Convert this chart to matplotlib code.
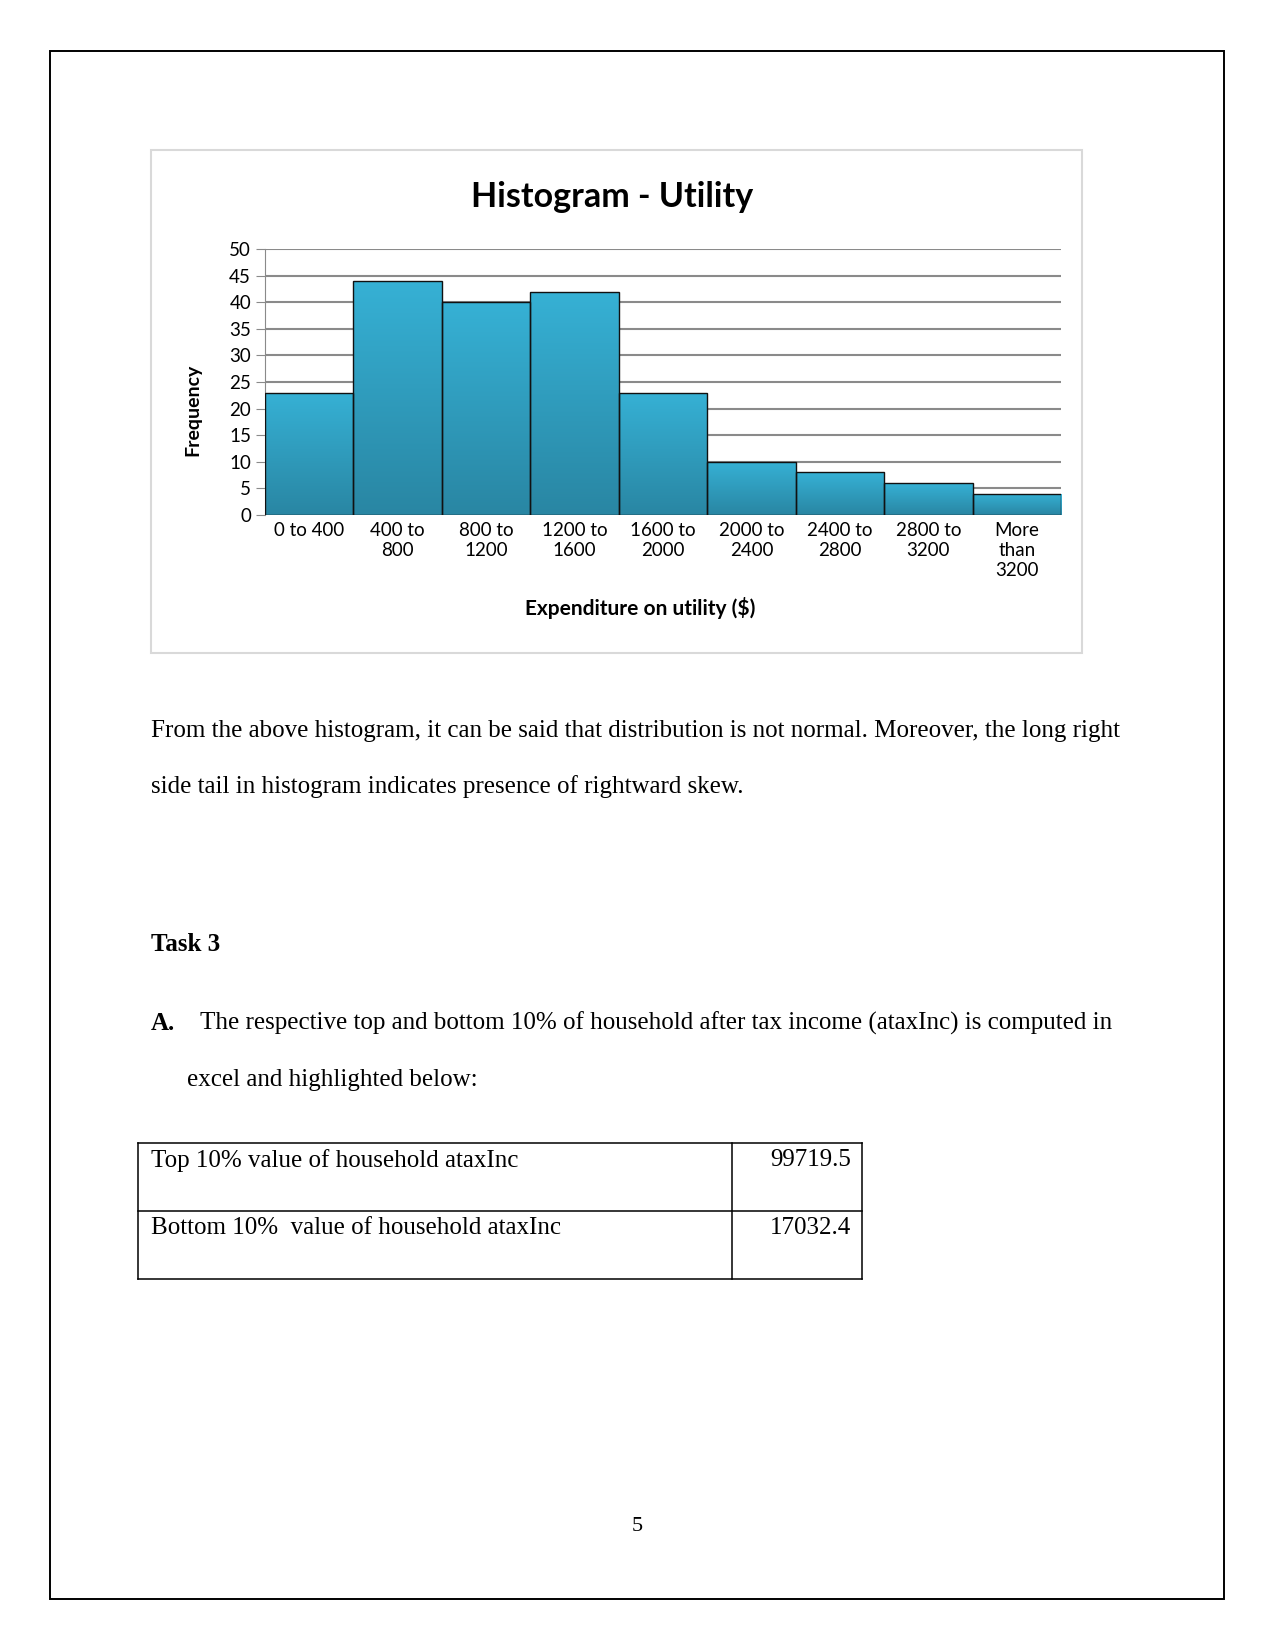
import matplotlib.pyplot as plt
import numpy as np
from matplotlib.patches import Rectangle

# -----------------------------
# Data
# -----------------------------
bins = ["0 to 400", "400 to\n800", "800 to\n1200", "1200 to\n1600", "1600 to\n2000",
        "2000 to\n2400", "2400 to\n2800", "2800 to\n3200", "More\nthan\n3200"]
freq = [23, 44, 40, 42, 23, 10, 8, 6, 4]
yticks = [0, 5, 10, 15, 20, 25, 30, 35, 40, 45, 50]

para1 = ["From the above histogram, it can be said that distribution is not normal. Moreover, the long right",
         "side tail in histogram indicates presence of rightward skew."]
task_heading = "Task 3"
item_a = ["The respective top and bottom 10% of household after tax income (ataxInc) is computed in",
          "excel and highlighted below:"]
table_labels = ["Top 10% value of household ataxInc", "Bottom 10%  value of household ataxInc"]
table_values = ["99719.5", "17032.4"]
page_no = "5"

W, H = 1275, 1650
fig = plt.figure(figsize=(W / 100, H / 100), dpi=100)


def fx(px):
    return px / W


def fy(py):
    return 1 - py / H


# page border
fig.add_artist(Rectangle((fx(50.5), fy(1599)), fx(1224) - fx(50.5), fy(50.5) - fy(1599),
                         transform=fig.transFigure, fill=False, edgecolor="black", lw=1.4))

# chart frame
fig.add_artist(Rectangle((fx(151), fy(653)), fx(1082) - fx(151), fy(150) - fy(653),
                         transform=fig.transFigure, fill=False, edgecolor="#d9d9d9", lw=1.5))

# -----------------------------
# Histogram
# -----------------------------
ax = fig.add_axes([fx(265), fy(515), fx(1061) - fx(265), fy(249) - fy(515)])
x = np.arange(len(freq))
bars = ax.bar(x, freq, width=1.0, color="none", edgecolor="#111111", linewidth=1.0, zorder=3)

grad = np.linspace(0, 1, 256).reshape(-1, 1)
cmap = plt.matplotlib.colors.LinearSegmentedColormap.from_list("bar", ["#2986a3", "#36b1d5"])
for b in bars:
    im = ax.imshow(grad, cmap=cmap, origin="lower", aspect="auto",
                   extent=[b.get_x(), b.get_x() + b.get_width(), 0, b.get_height()], zorder=2)
    im.set_clip_path(b)

ax.set_xlim(-0.5, len(freq) - 0.5)
ax.set_ylim(0, 50)
ax.set_yticks(yticks)
ax.set_xticks(x)
ax.set_xticklabels(bins, fontfamily="Lato", fontsize=13.5, linespacing=1.2)
ax.set_yticklabels([str(v) for v in yticks], fontfamily="Lato", fontsize=13.5)
ax.grid(axis="y", color="#8a8a8a", linewidth=1.5, zorder=1)
ax.set_axisbelow(True)
for s in ["top", "right", "bottom"]:
    ax.spines[s].set_visible(False)
ax.spines["left"].set_color("#8a8a8a")
ax.tick_params(axis="y", length=6.5, color="#8a8a8a", pad=3.5)
ax.tick_params(axis="x", length=0, pad=5)

fig.text(fx(612), fy(197), "Histogram - Utility", fontfamily="Lato", fontweight="bold",
         fontsize=24.5, ha="center", va="center")
fig.text(fx(640), fy(608), "Expenditure on utility ($)", fontfamily="Lato", fontweight="bold",
         fontsize=15, ha="center", va="center")
fig.text(fx(193), fy(410), "Frequency", fontfamily="Lato", fontweight="bold",
         fontsize=14, ha="center", va="center", rotation=90)

# -----------------------------
# Body text
# -----------------------------
serif = "Liberation Serif"
fs = 18
fig.text(fx(151), fy(737), para1[0], fontfamily=serif, fontsize=fs, va="baseline")
fig.text(fx(151), fy(793), para1[1], fontfamily=serif, fontsize=fs, va="baseline")
fig.text(fx(151), fy(951), task_heading, fontfamily=serif, fontsize=fs, fontweight="bold", va="baseline")
fig.text(fx(151), fy(1030), "A.", fontfamily=serif, fontsize=fs, fontweight="bold", va="baseline")
fig.text(fx(200), fy(1030), item_a[0], fontfamily=serif, fontsize=fs, va="baseline")
fig.text(fx(187), fy(1086), item_a[1], fontfamily=serif, fontsize=fs, va="baseline")

# -----------------------------
# Table
# -----------------------------
t_left, t_div, t_right = 138, 732, 862
row_tops = [1143, 1211, 1279]
for yy in row_tops:
    fig.add_artist(plt.Line2D([fx(t_left), fx(t_right)], [fy(yy), fy(yy)],
                              transform=fig.transFigure, color="black", lw=1.1))
for xx in [t_left, t_div, t_right]:
    fig.add_artist(plt.Line2D([fx(xx), fx(xx)], [fy(row_tops[0]), fy(row_tops[-1])],
                              transform=fig.transFigure, color="black", lw=1.1))
for i, (lab, val) in enumerate(zip(table_labels, table_values)):
    base = row_tops[i] + 23.5
    fig.text(fx(151), fy(base), lab, fontfamily=serif, fontsize=fs, va="baseline")
    fig.text(fx(851), fy(base), val, fontfamily=serif, fontsize=fs, va="baseline", ha="right")

fig.text(fx(637), fy(1531), page_no, fontfamily=serif, fontsize=16, ha="center", va="baseline")

fig.savefig("out.png", dpi=100)
